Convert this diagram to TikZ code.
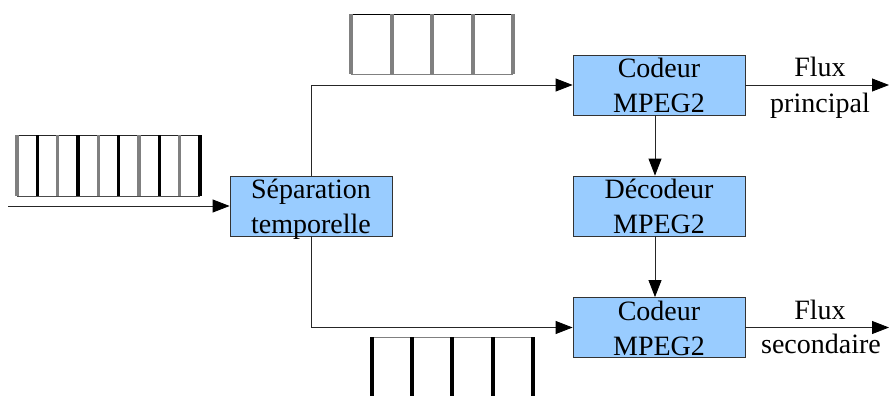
\documentclass[tikz,border=0pt]{standalone}
\usepackage{fontspec}
\setmainfont{Liberation Serif}
\newfontfamily\diagfont{Liberation Serif}
\usetikzlibrary{arrows.meta}
\definecolor{boxblue}{HTML}{99CCFF}
\definecolor{framegray}{HTML}{808080}
\begin{document}
\begin{tikzpicture}[x=1pt,y=-1pt,
  box/.style={draw=black!80, line width=0.8pt, fill=boxblue, minimum width=172pt,
    minimum height=60pt, inner sep=0pt, align=center,
    font=\diagfont\fontsize{28}{35}\selectfont, text height=57.5pt, text depth=2.5pt},
  conn/.style={draw=black!85, line width=0.8pt, -{Triangle[length=17pt,width=13pt,fill=black,color=black]}},
  lbl/.style={font=\diagfont\fontsize{28}{35}\selectfont, inner sep=0pt, anchor=base},
  graybar/.style={draw=framegray, line width=3.5pt},
  blackbar/.style={draw=black, line width=3.5pt},
  thinedge/.style={line width=0.9pt}]
\useasboundingbox (0,0) rectangle (889,396);

% input strip
\draw[thinedge, draw=black!85] (17,135) -- (200,135);
\draw[thinedge, draw=black!70] (17,196) -- (200,196);
\foreach \i in {0,...,9}{
  \pgfmathsetmacro{\xx}{17+20.33*\i}
  \ifodd\i
    \draw[blackbar] (\xx,135) -- (\xx,196);
  \else
    \draw[graybar] (\xx,135) -- (\xx,196);
  \fi
}

% upper strip
\draw[thinedge, draw=black] (351,14) -- (513,14);
\draw[thinedge, draw=framegray] (351,74) -- (513,74);
\foreach \xx in {351,392,432,473,513}
  \draw[graybar] (\xx,14) -- (\xx,74);

% lower strip
\draw[thinedge, draw=framegray] (372,337) -- (533,337);
\foreach \xx in {372,412,452,493,533}
  \draw[blackbar] (\xx,337) -- (\xx,396);

% nodes
\node[box, minimum width=162pt] (sep) at (311,206) {Séparation\\temporelle};
\node[box] (cod1) at (659,85) {Codeur\\MPEG2};
\node[box] (dec) at (659,206) {Décodeur\\MPEG2};
\node[box] (cod2) at (659,327.5) {Codeur\\MPEG2};

\coordinate (in) at (8,206);
\coordinate (out1) at (889,85);
\coordinate (out2) at (889,327.5);

% connectors
\draw[conn] (in) -- (sep.west);
\draw[conn] (sep.north) |- (cod1.west);
\draw[conn] (sep.south) |- (cod2.west);
\draw[conn] ([xshift=-4pt]cod1.south) -- ([xshift=-4pt]dec.north);
\draw[conn] ([xshift=-4pt]dec.south) -- ([xshift=-4pt]cod2.north);
\draw[conn] (cod1.east) -- (out1);
\draw[conn] (cod2.east) -- (out2);

% labels
\node[lbl] (f1) at (820,77) {Flux};
\node[lbl] (p1) at (820,112) {principal};
\node[lbl] (f2) at (820,319) {Flux};
\node[lbl] (s2) at (821,353) {secondaire};
\end{tikzpicture}
\end{document}
